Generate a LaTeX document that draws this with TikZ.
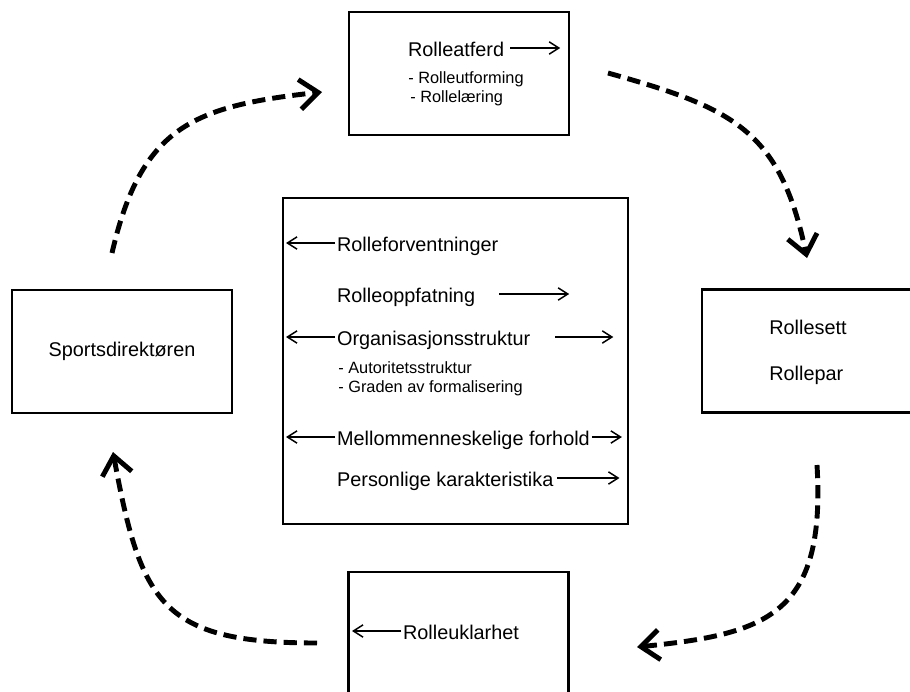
\documentclass[tikz,border=0pt]{standalone}
\usepackage{fontspec}
\setmainfont{Liberation Sans}
\usetikzlibrary{arrows.meta}

\tikzset{
  box/.style={draw, line width=1.3pt, minimum width=4.4cm, minimum height=2.46cm, inner sep=0pt},
  lbl/.style={anchor=west, inner sep=1pt, font=\fontsize{11.3}{13}\selectfont, text height=12.7pt, text depth=2.5pt},
  txt/.style={anchor=base west, inner sep=0pt, font=\fontsize{11.3}{13}\selectfont},
  sublbl/.style={anchor=base west, inner sep=0pt, font=\fontsize{9.3}{11}\selectfont},
  thinarrow/.style={line width=0.85pt, -{Straight Barb[length=5.5pt,width=7pt]}},
  flow/.style={line width=2.8pt, dash pattern=on 7.5pt off 4pt, -{Straight Barb[length=10.5pt,width=17pt]}}
}

\begin{document}
\begin{tikzpicture}[x=0.02cm, y=-0.02cm]
    \useasboundingbox (0,0) rectangle (910,691);
    \clip (0,0) rectangle (910,691);

    % Draw the five boxes
    \node[box] (atferd) at (459,73.5) {};
    \node[box, minimum width=6.9cm, minimum height=6.52cm] (mid) at (455.5,361) {};
    \node[box, font=\fontsize{11.3}{13}\selectfont] (dir) at (122,351.5) {Sportsdirektøren};
    \node[box] (sett) at (812,351) {};
    \node[box] (uklar) at (458.5,633.5) {};

    % Top box
    \node[lbl] (atf) at (406,48) {Rolleatferd};
    \draw[thinarrow] (atf.east) ++(4,0) -- ++(50,0);
    \node[sublbl] (utf) at (408,83) {- Rolleutforming};
    \node[sublbl] (laer) at (410,102) {- Rollelæring};

    % Middle box
    \node[lbl] (forv) at (335,243) {Rolleforventninger};
    \draw[thinarrow] (forv.west) -- ++(-49,0);
    \node[lbl] (oppf) at (335,294) {Rolleoppfatning};
    \draw[thinarrow] (oppf.east) ++(22,0) -- ++(70,0);
    \node[lbl] (org) at (335,337) {Organisasjonsstruktur};
    \draw[thinarrow] (org.west) -- ++(-49,0);
    \draw[thinarrow] (org.east) ++(23,0) -- ++(58,0);
    \node[sublbl] (aut) at (338,373) {- Autoritetsstruktur};
    \node[sublbl] (grad) at (338,392) {- Graden av formalisering};
    \node[lbl] (mell) at (335,437) {Mellommenneskelige forhold};
    \draw[thinarrow] (mell.west) -- ++(-49,0);
    \draw[thinarrow] (mell.east) -- ++(30,0);
    \node[lbl] (pers) at (335,478) {Personlige karakteristika};
    \draw[thinarrow] (pers.east) ++(2,0) -- ++(62,0);

    % Right box
    \node[txt] (rsett) at (769,334) {Rollesett};
    \node[txt] (rpar) at (769,380) {Rollepar};

    % Bottom box
    \node[lbl] (ukl) at (401,631) {Rolleuklarhet};
    \draw[thinarrow] (ukl.west) -- ++(-49,0);

    % Dashed cycle between the boxes
    \coordinate (a1) at (112,253);
    \coordinate (b1) at (322,92);
    \coordinate (a2) at (608,73);
    \coordinate (b2) at (807,258);
    \coordinate (a3) at (817,465);
    \coordinate (b3) at (637,647);
    \coordinate (a4) at (317,643);
    \coordinate (b4) at (113,452);
    \draw[flow] (a1) .. controls (141,127) and (193,106) .. (b1);
    \draw[flow] (a2) .. controls (733,108) and (780,130) .. (b2);
    \draw[flow] (a3) .. controls (826,615) and (767,634) .. (b3);
    \draw[flow] (a4) .. controls (162,643) and (141,604) .. (b4);
\end{tikzpicture}
\end{document}
